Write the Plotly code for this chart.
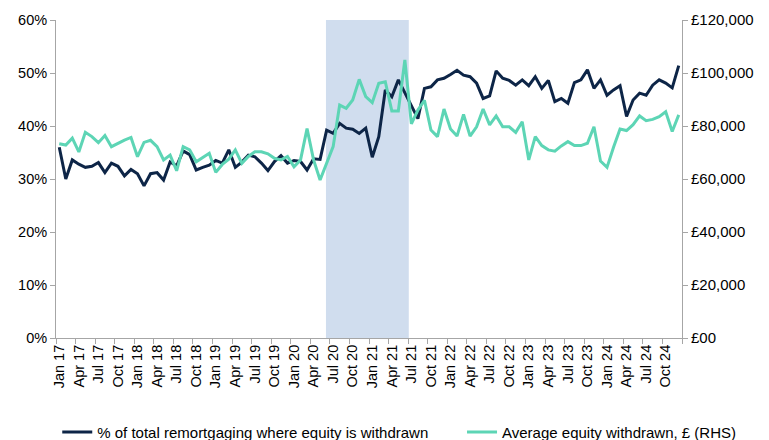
import plotly.graph_objects as go

months = ["Jan", "Feb", "Mar", "Apr", "May", "Jun", "Jul", "Aug", "Sep", "Oct", "Nov", "Dec"]
years = ["17", "18", "19", "20", "21", "22", "23", "24"]
month_labels = [f"{m} {y}" for y in years for m in months]

pct_equity_withdrawn = [
    36.0, 30.0, 33.6, 32.8, 32.2, 32.4, 33.1, 31.2, 33.0, 32.4, 30.6, 31.8,
    31.0, 28.7, 31.0, 31.2, 29.8, 33.2, 32.5, 35.3, 34.6, 31.7, 32.2, 32.6,
    33.5, 33.0, 35.5, 32.2, 33.2, 34.5, 34.2, 33.0, 31.6, 33.3, 34.4, 33.0,
    33.5, 33.3, 31.7, 33.8, 33.7, 39.2, 38.6, 40.5, 39.6, 39.4, 38.6, 39.6,
    34.1, 38.0, 46.8, 45.5, 48.7, 46.2, 44.0, 41.4, 47.1, 47.4, 48.7, 49.0,
    49.7, 50.5, 49.6, 49.3, 48.1, 45.2, 45.7, 50.4, 49.0, 48.6, 47.7, 48.7,
    47.6, 49.3, 47.1, 48.6, 44.6, 45.2, 44.3, 48.2, 48.7, 50.6, 47.1, 48.7,
    45.8, 46.8, 47.6, 41.8, 44.9, 46.2, 45.8, 47.7, 48.7, 48.1, 47.2, 51.4,
]

avg_equity_withdrawn_gbp = [
    73300, 72800, 75400, 70200, 77600, 76000, 73700, 76400, 72200, 73500, 74700, 75700,
    68400, 73800, 74600, 72200, 67200, 69000, 63100, 72200, 71000, 66500, 68000, 69700,
    62500, 65500, 67500, 71000, 65900, 68500, 70300, 70300, 69500, 67800, 67200, 68500,
    64600, 67200, 79000, 67200, 59600, 65900, 72200, 87900, 86700, 89800, 97600, 91100,
    88800, 96100, 96700, 85700, 85700, 104900, 80800, 86000, 89700, 78500, 76000, 86400,
    78900, 76200, 84400, 76200, 79700, 86400, 80400, 83800, 79700, 79700, 77600, 81600,
    67200, 76000, 72600, 71000, 70500, 72500, 74100, 72600, 72600, 73500, 79700, 66800,
    64400, 72000, 78900, 78300, 80500, 83800, 82000, 82500, 83500, 85400, 77900, 84200,
]

left_tick_values = [0, 10, 20, 30, 40, 50, 60]
right_tick_values = [0, 20000, 40000, 60000, 80000, 100000, 120000]
right_tick_labels = ["£00", "£20,000", "£40,000", "£60,000", "£80,000", "£100,000", "£120,000"]

shade_start_month = 41.4
shade_end_month = 54.1

n = len(month_labels)
x_pos = [i + 0.5 for i in range(n)]
label_idx = list(range(0, n, 3))

NAVY = "#0D2547"
TEAL = "#5DD5B5"
AXIS = "#A6A6A6"
FONT = "Arial, Liberation Sans, sans-serif"

fig = go.Figure()
fig.add_trace(go.Scatter(
    x=x_pos, y=pct_equity_withdrawn, mode="lines",
    name="% of total remortgaging where equity is withdrawn",
    line=dict(color=NAVY, width=3), yaxis="y", legend="legend",
))
fig.add_trace(go.Scatter(
    x=x_pos, y=avg_equity_withdrawn_gbp, mode="lines",
    name="Average equity withdrawn, £ (RHS)",
    line=dict(color=TEAL, width=3), yaxis="y2", legend="legend2",
))

fig.add_shape(type="rect", xref="x", yref="paper",
              x0=shade_start_month, x1=shade_end_month, y0=0, y1=1,
              fillcolor="#D0DDEE", line=dict(width=0), layer="below")

legend_common = dict(orientation="h", xref="paper", xanchor="left",
                     yref="paper", y=-0.296, yanchor="middle",
                     font=dict(size=15, family=FONT), bgcolor="rgba(0,0,0,0)")

# the page body has an 8px margin, so the figure is offset by 8px
fig.update_layout(
    width=769, height=440,
    margin=dict(l=48, r=95, t=12, b=110, autoexpand=False),
    paper_bgcolor="white", plot_bgcolor="white",
    font=dict(family=FONT, size=14, color="#000000"),
    showlegend=True,
    legend=dict(x=0.002, **legend_common),
    legend2=dict(x=0.6486, **legend_common),
    xaxis=dict(
        range=[0, n], showgrid=False, zeroline=False, automargin=False,
        showline=True, linecolor=AXIS, linewidth=1,
        tickmode="array", tickvals=[x_pos[i] for i in label_idx],
        ticktext=[month_labels[i] for i in label_idx],
        tickangle=-90, ticks="", tickfont=dict(size=14.5),
        minor=dict(tickmode="array", tickvals=list(range(0, n + 1, 3)),
                   ticks="outside", ticklen=5, tickcolor=AXIS, showgrid=False),
    ),
    yaxis=dict(
        range=[0, 60], tickvals=left_tick_values, automargin=False,
        ticktext=[f"{v}%" for v in left_tick_values],
        showgrid=False, zeroline=False, showline=True, linecolor=AXIS,
        ticks="outside", ticklen=5, tickcolor=AXIS, tickfont=dict(size=14.5),
    ),
    yaxis2=dict(
        range=[0, 120000], overlaying="y", side="right", automargin=False,
        tickvals=right_tick_values, ticktext=right_tick_labels,
        showgrid=False, zeroline=False, showline=True, linecolor=AXIS,
        ticks="outside", ticklen=5, tickcolor=AXIS, tickfont=dict(size=15),
    ),
)

fig.write_html("out.html")
